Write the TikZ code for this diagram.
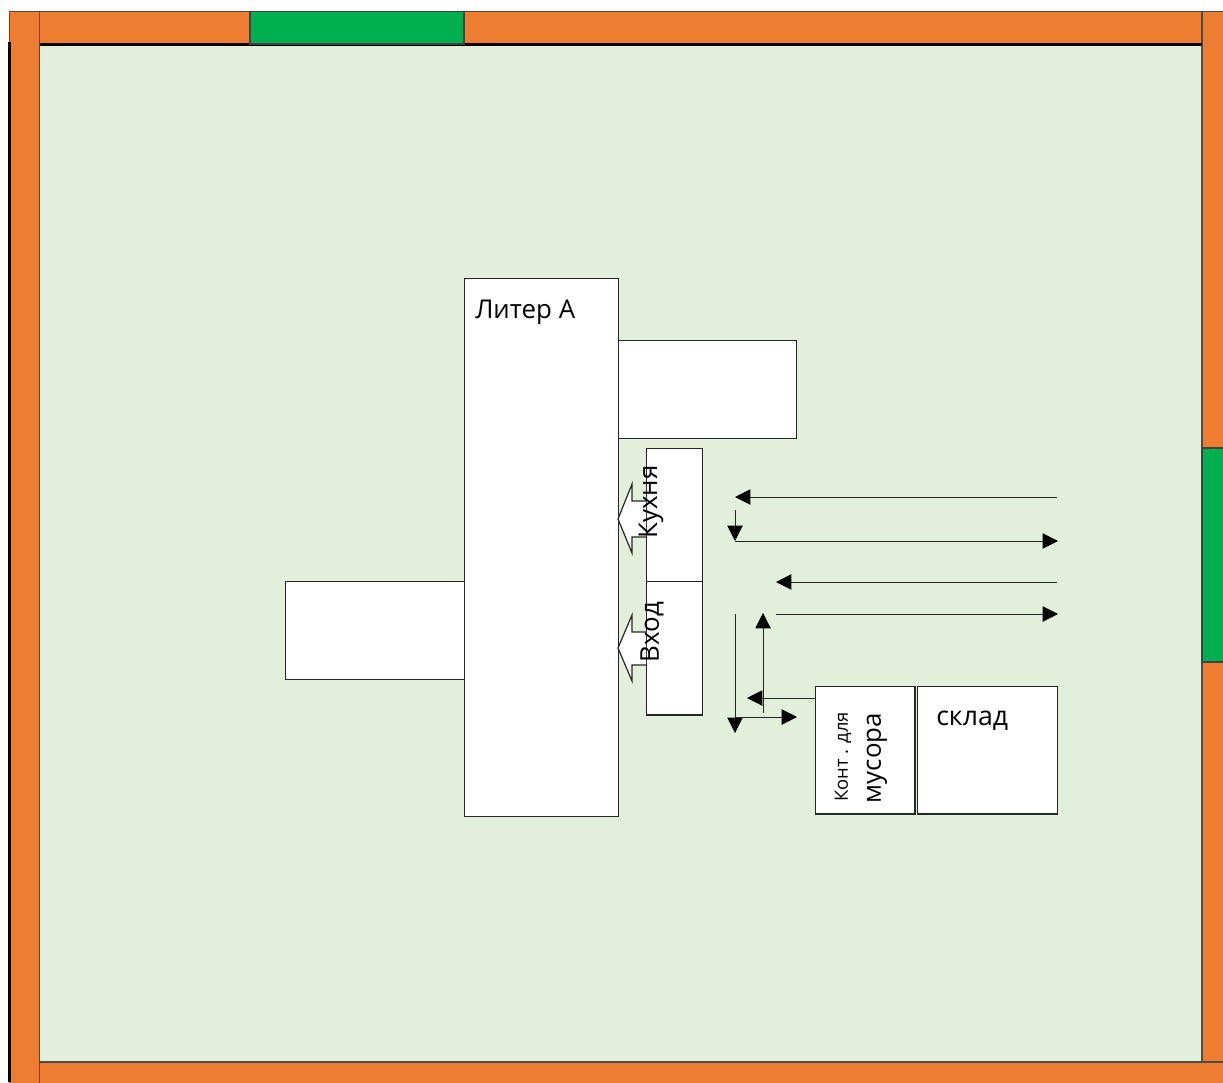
\documentclass[tikz,border=0pt]{standalone}
\usepackage{fontspec}
\setmainfont{Open Sans}
\usetikzlibrary{arrows.meta}
\tikzset{
  x=0.75pt,y=-0.75pt,
  band/.style={fill=bandorange,draw=black!70,line width=0.8pt},
  gate/.style={fill=gategreen,draw=black!75,line width=0.8pt},
  wbox/.style={fill=white,draw=black!85,line width=0.9pt},
  flow/.style={draw=black!85,line width=0.75pt,-{Triangle[length=11.5pt,width=11.5pt,color=black]}},
  lbl/.style={inner sep=0pt,font=\fontsize{19.4}{22}\selectfont},
  vlbl/.style={lbl,rotate=90},
}
\definecolor{bandorange}{HTML}{ED7D31}
\definecolor{gategreen}{HTML}{00B050}
\definecolor{lawn}{HTML}{E2EFDA}
\begin{document}
\begin{tikzpicture}
\useasboundingbox (0,0) rectangle (1223,1082);
\fill[white] (0,0) rectangle (1223,1082);
% ground
\fill[lawn] (40,44) rectangle (1202,1062);
% boundary bands
\path[band] (9.5,11.5) rectangle (39.5,1084);
\draw[black,line width=1.8pt] (9.5,42) -- (9.5,1082);
\path[band] (1202,11.5) rectangle (1226,1084);
\path[band] (39.5,11.5) rectangle (1202,44);
\draw[black,line width=1.8pt] (39.5,44.5) -- (1202,44.5);
\path[band] (39.5,1062) rectangle (1226,1086);
\path[gate] (250,11.5) rectangle (464,44);
\path[gate] (1202,448) rectangle (1226,662);
% buildings
\node[wbox,anchor=north west,minimum width=115.5pt,minimum height=404pt,inner sep=0pt] (litera) at (463.5,277.5) {};
\node[wbox,anchor=north west,minimum width=134pt,minimum height=73.5pt,inner sep=0pt] (north) at (617.5,340) {};
\node[wbox,anchor=north west,minimum width=134pt,minimum height=73.5pt,inner sep=0pt] (west) at (285,581) {};
\node[wbox,anchor=north west,minimum width=42pt,minimum height=100pt,inner sep=0pt] (kitchen) at (645.5,447.5) {};
\node[wbox,anchor=north west,minimum width=42pt,minimum height=100pt,inner sep=0pt] (entry) at (645.5,581) {};
\node[wbox,anchor=north west,minimum width=74.5pt,minimum height=95.5pt,inner sep=0pt] (trash) at (815,686) {};
\node[wbox,anchor=north west,minimum width=105.5pt,minimum height=95.5pt,inner sep=0pt] (store) at (916.5,686) {};
% block arrows
\fill[white] (646,501) -- (632,501) -- (632,484) -- (618,519) -- (632,553) -- (632,537) -- (646,537) -- cycle;
\draw[black!85,line width=0.9pt] (646,501) -- (632,501) -- (632,484) -- (618,519) -- (632,553) -- (632,537) -- (646,537);
\fill[white] (646,632) -- (632,632) -- (632,615) -- (618,648) -- (632,681) -- (632,665) -- (646,665) -- cycle;
\draw[black!85,line width=0.9pt] (646,632) -- (632,632) -- (632,615) -- (618,648) -- (632,681) -- (632,665) -- (646,665);
% labels
\node[lbl,anchor=base west] (tA) at (475,318) {Литер А};
\node[vlbl] (tK) at (651,502) {Кухня};
\node[vlbl] (tV) at (652,632) {Вход};
\node[lbl,anchor=base west,font=\fontsize{20}{22}\selectfont] (tS) at (936,725) {склад};
\node[vlbl,font=\fontsize{13.8}{15}\selectfont] (tC) at (843,757) {Конт . для};
\node[vlbl] (tM) at (877,758) {мусора};
% connectors
\coordinate (a1) at (1057,497); \coordinate (a2) at (735,497);
\coordinate (b1) at (735,510); \coordinate (b2) at (735,541);
\coordinate (b3) at (1058,541);
\coordinate (c1) at (1057,582); \coordinate (c2) at (776,582);
\coordinate (d1) at (776,614); \coordinate (d2) at (1058,614);
\coordinate (e1) at (735,614); \coordinate (e2) at (735,733);
\coordinate (f1) at (735,717); \coordinate (f2) at (797,717);
\coordinate (g1) at (763,713); \coordinate (g2) at (763,613);
\coordinate (h1) at (815,698); \coordinate (h2) at (747,698);
\draw[flow] (a1) -- (a2);
\draw[flow] (b1) -- (b2);
\draw[flow] (b2) -- (b3);
\draw[flow] (c1) -- (c2);
\draw[flow] (d1) -- (d2);
\draw[flow] (e1) -- (e2);
\draw[flow] (f1) -- (f2);
\draw[flow] (g1) -- (g2);
\draw[flow] (h1) -- (h2);
\end{tikzpicture}
\end{document}
